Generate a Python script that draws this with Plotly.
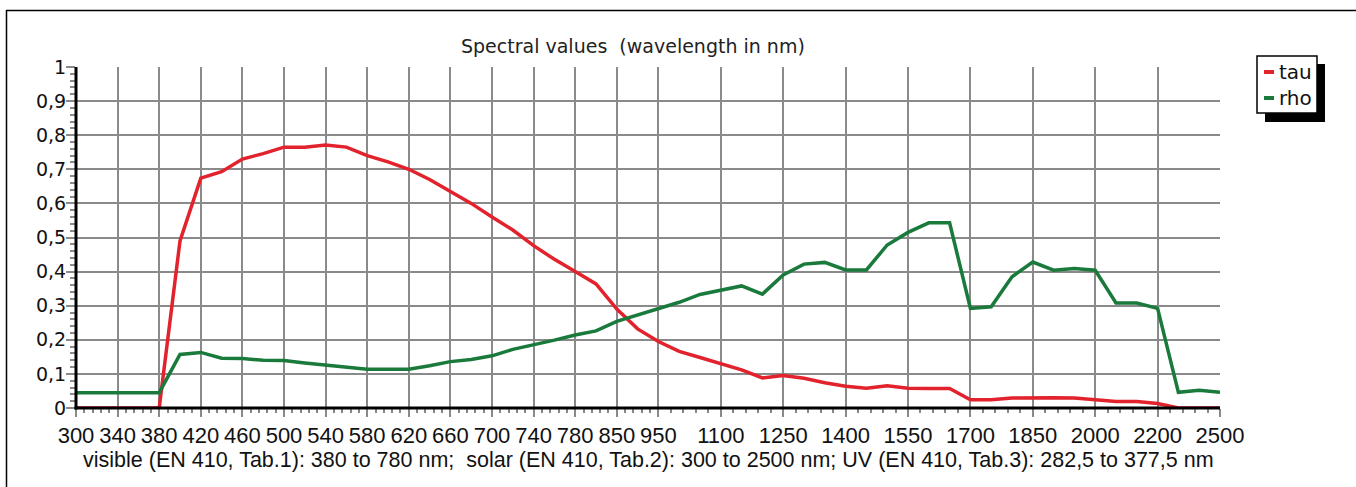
import numpy as np
import plotly.graph_objects as go

# ---- data (EN 410 solar wavelength table) ----
wavelengths = [300, 320, 340, 360, 380, 400, 420, 440, 460, 480, 500, 520, 540, 560, 580,
               600, 620, 640, 660, 680, 700, 720, 740, 760, 780, 800, 850, 900, 950, 1000,
               1050, 1100, 1150, 1200, 1250, 1300, 1350, 1400, 1450, 1500, 1550, 1600, 1650,
               1700, 1750, 1800, 1850, 1900, 1950, 2000, 2050, 2100, 2200, 2300, 2400, 2500]

tau = [0.0, 0.0, 0.0, 0.0, 0.0, 0.49, 0.674, 0.693, 0.73, 0.746, 0.765, 0.765, 0.771, 0.765,
       0.74, 0.722, 0.70, 0.67, 0.636, 0.60, 0.56, 0.522, 0.476, 0.436, 0.40, 0.364, 0.29,
       0.232, 0.195, 0.166, 0.148, 0.13, 0.112, 0.088, 0.095, 0.087, 0.074, 0.064, 0.058,
       0.065, 0.058, 0.057, 0.057, 0.024, 0.024, 0.029, 0.030, 0.030, 0.029, 0.025, 0.019,
       0.019, 0.013, 0.0, 0.0, 0.0]

rho = [0.045, 0.045, 0.045, 0.045, 0.045, 0.157, 0.163, 0.146, 0.145, 0.14, 0.139, 0.132,
       0.126, 0.12, 0.114, 0.114, 0.114, 0.124, 0.136, 0.142, 0.153, 0.172, 0.185, 0.199,
       0.214, 0.226, 0.254, 0.273, 0.293, 0.31, 0.333, 0.346, 0.358, 0.334, 0.39, 0.422,
       0.427, 0.405, 0.405, 0.478, 0.515, 0.543, 0.543, 0.292, 0.297, 0.385, 0.428, 0.404,
       0.409, 0.404, 0.308, 0.308, 0.292, 0.046, 0.052, 0.046]

tick_labels = [300, 340, 380, 420, 460, 500, 540, 580, 620, 660, 700, 740, 780, 850, 950,
               1100, 1250, 1400, 1550, 1700, 1850, 2000, 2200, 2500]

series_names = ["tau", "rho"]
series_colors = ["#e2222c", "#1a7a3c"]

title_text = "Spectral values \u00a0(wavelength in nm)"
caption_text = ("visible (EN 410, Tab.1): 380 to 780 nm; \u00a0solar (EN 410, Tab.2): 300 to 2500 nm; "
                "UV (EN 410, Tab.3): 282,5 to 377,5 nm")

# ---- layout geometry ----
W, H = 1356, 487
L, R, T, B = 76, 136, 67, 79
PW, PH = W - L - R, H - T - B


def px(xp):
    return (xp - L) / PW


def py(yp):
    return (H - B - yp) / PH


idx = np.arange(len(wavelengths))
tick_idx = [wavelengths.index(v) for v in tick_labels]
minor_vals = []
for a, b in zip(tick_idx[:-1], tick_idx[1:]):
    minor_vals.extend(np.linspace(a, b, 6)[1:-1].tolist())

fig = go.Figure()
for name, vals, col in zip(series_names, [tau, rho], series_colors):
    fig.add_trace(go.Scatter(x=idx, y=vals, mode="lines", name=name,
                             line=dict(color=col, width=3.5), showlegend=False))

fig.update_layout(
    width=W, height=H,
    margin=dict(l=L, r=R, t=T, b=B),
    paper_bgcolor="white", plot_bgcolor="white",
    separators=", ",
    font=dict(family="Liberation Sans, Arial, sans-serif", color="#111"),
)

fig.update_xaxes(
    range=[0, len(wavelengths) - 1],
    tickmode="array", tickvals=tick_idx, ticktext=[str(v) for v in tick_labels],
    showgrid=True, gridcolor="#8a8a8a", gridwidth=1.5,
    showline=False,
    ticks="outside", ticklen=8, tickcolor="#8a8a8a", tickwidth=1.5,
    tickfont=dict(family="Liberation Sans, Arial", size=22, color="#111"),
    minor=dict(tickmode="array", tickvals=minor_vals, ticks="outside", ticklen=4,
               tickcolor="#8a8a8a", tickwidth=1.5, showgrid=False),
    zeroline=False,
)
fig.update_yaxes(
    range=[0, 1], tickmode="linear", tick0=0, dtick=0.1,
    showgrid=True, gridcolor="#8a8a8a", gridwidth=1.5,
    showline=False,
    ticks="outside", ticklen=9, tickcolor="#8a8a8a", tickwidth=1.5,
    ticklabelstandoff=-4,
    tickfont=dict(family="DejaVu Sans", size=19, color="#111"),
    minor=dict(dtick=0.02, ticks="outside", ticklen=5, tickcolor="#8a8a8a",
               tickwidth=1.5, showgrid=False),
    zeroline=False,
)

# thick black axis lines drawn over the traces (hide zero-valued segments like the original)
fig.add_shape(type="line", xref="paper", yref="paper", x0=px(L - 1.5), x1=1, y0=0, y1=0,
              line=dict(color="black", width=3), layer="above")
fig.add_shape(type="line", xref="paper", yref="paper", x0=0, x1=0, y0=py(H - B + 1.5), y1=1,
              line=dict(color="black", width=3), layer="above")

# title & caption
fig.add_annotation(text=title_text, x=px(633), y=py(46), xref="paper", yref="paper",
                   showarrow=False, xanchor="center", yanchor="middle",
                   font=dict(family="DejaVu Sans", size=19, color="#222"))
fig.add_annotation(text=caption_text, x=px(648), y=py(460), xref="paper", yref="paper",
                   showarrow=False, xanchor="center", yanchor="middle",
                   font=dict(family="Liberation Sans, Arial", size=21.5, color="#111"))

# outer frame
fig.add_shape(type="line", xref="paper", yref="paper", x0=px(6.5), x1=px(6.5),
              y0=py(10), y1=py(H + 5), line=dict(color="black", width=1.5))
fig.add_shape(type="line", xref="paper", yref="paper", x0=px(6), x1=px(W + 5),
              y0=py(10.5), y1=py(10.5), line=dict(color="black", width=1.5))

# legend box with drop shadow
fig.add_shape(type="rect", xref="paper", yref="paper", x0=px(1265), x1=px(1325),
              y0=py(64), y1=py(122), fillcolor="black", line=dict(width=0))
fig.add_shape(type="rect", xref="paper", yref="paper", x0=px(1257), x1=px(1317),
              y0=py(56), y1=py(113), fillcolor="white", line=dict(color="black", width=1.5))
for i, (name, col) in enumerate(zip(series_names, series_colors)):
    yy = 72 + i * 26
    fig.add_shape(type="line", xref="paper", yref="paper", x0=px(1264), x1=px(1274),
                  y0=py(yy), y1=py(yy), line=dict(color=col, width=4))
    fig.add_annotation(text=name, x=px(1277), y=py(yy), xref="paper", yref="paper",
                       showarrow=False, xanchor="left", yanchor="middle",
                       font=dict(family="DejaVu Sans", size=20, color="#111"))

fig.write_html("out.html", config={"displayModeBar": False},
               post_script="document.body.style.margin='0';")
